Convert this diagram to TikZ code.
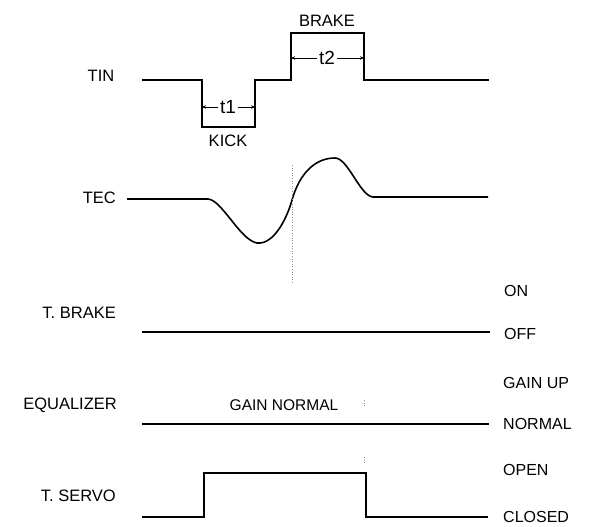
\documentclass[tikz,border=0pt]{standalone}
\usepackage{fontspec}
\setmainfont{Liberation Sans}
\usetikzlibrary{arrows.meta}
\begin{document}
\begin{tikzpicture}[x=1pt,y=-1pt,
  lbl/.style={font=\fontsize{16.5}{18}\selectfont, inner sep=0pt},
  small/.style={font=\fontsize{16}{18}\selectfont, inner sep=0pt},
  mid/.style={font=\fontsize{15.5}{18}\selectfont, inner sep=0pt},
  big/.style={font=\fontsize{19}{21}\selectfont, inner sep=1.5pt},
  wave/.style={line width=1.6pt, line join=miter},
  dim/.style={line width=0.8pt, -{Stealth[length=4pt,width=3.5pt]}},
  guide/.style={black!45, dotted, line width=0.6pt}]
\useasboundingbox (0,0) rectangle (594,527);
% left labels
\node[lbl] (tin) at (101,76) {TIN};
\node[lbl, anchor=east] (tec) at (116,198) {TEC};
\node[lbl, anchor=east] (tbrake) at (116,313) {T. BRAKE};
\node[lbl, anchor=east] (eq) at (117,405) {EQUALIZER};
\node[lbl, anchor=east] (tservo) at (116,496) {T. SERVO};
% right labels
\node[small, anchor=west] (on) at (504,291) {ON};
\node[small, anchor=west] (off) at (504,334) {OFF};
\node[small, anchor=west] (gup) at (503,383) {GAIN UP};
\node[small, anchor=west] (norm) at (503,424) {NORMAL};
\node[small, anchor=west] (open) at (503,470) {OPEN};
\node[small, anchor=west] (closed) at (503,517) {CLOSED};
% other labels
\node[lbl] (brake) at (327,21) {BRAKE};
\node[lbl] (kick) at (228,141) {KICK};
\node[mid] (gn) at (284,405) {GAIN NORMAL};
\node[big] (t1) at (228,107) {t1};
\node[big] (t2) at (327,58) {t2};
% TIN waveform
\draw[wave] (142,80) -- (202,80) -- (202,127) -- (255,127) -- (255,80)
  -- (291,80) -- (291,33) -- (364,33) -- (364,80) -- (489,80);
\coordinate (k1) at (202,107);
\coordinate (k2) at (255,107);
\coordinate (b1) at (291,58);
\coordinate (b2) at (364,58);
\draw[dim] (t1.west) -- (k1);
\draw[dim] (t1.east) -- (k2);
\draw[dim] (t2.west) -- (b1);
\draw[dim] (t2.east) -- (b2);
% TEC waveform
\draw[wave] (tec.east) ++(11,1) -- (208,199)
  .. controls (222,200) and (240,240) .. (257,243)
  .. controls (275,245) and (288,215) .. (292,200)
  .. controls (300,172) and (316,158) .. (335,158)
  .. controls (348,158) and (360,196) .. (373,197) -- (488,197);
% guide
\draw[guide] (292,165) -- (292,283);
\draw[guide] (364,400) -- (364,407);
\draw[guide] (364,457) -- (364,463);
% T. BRAKE
\draw[wave] (142,332) -- (490,332);
% EQUALIZER
\draw[wave] (142,424) -- (489,424);
% T. SERVO
\draw[wave] (142,517) -- (204,517) -- (204,473) -- (366,473) -- (366,517) -- (488,517);
\end{tikzpicture}
\end{document}
